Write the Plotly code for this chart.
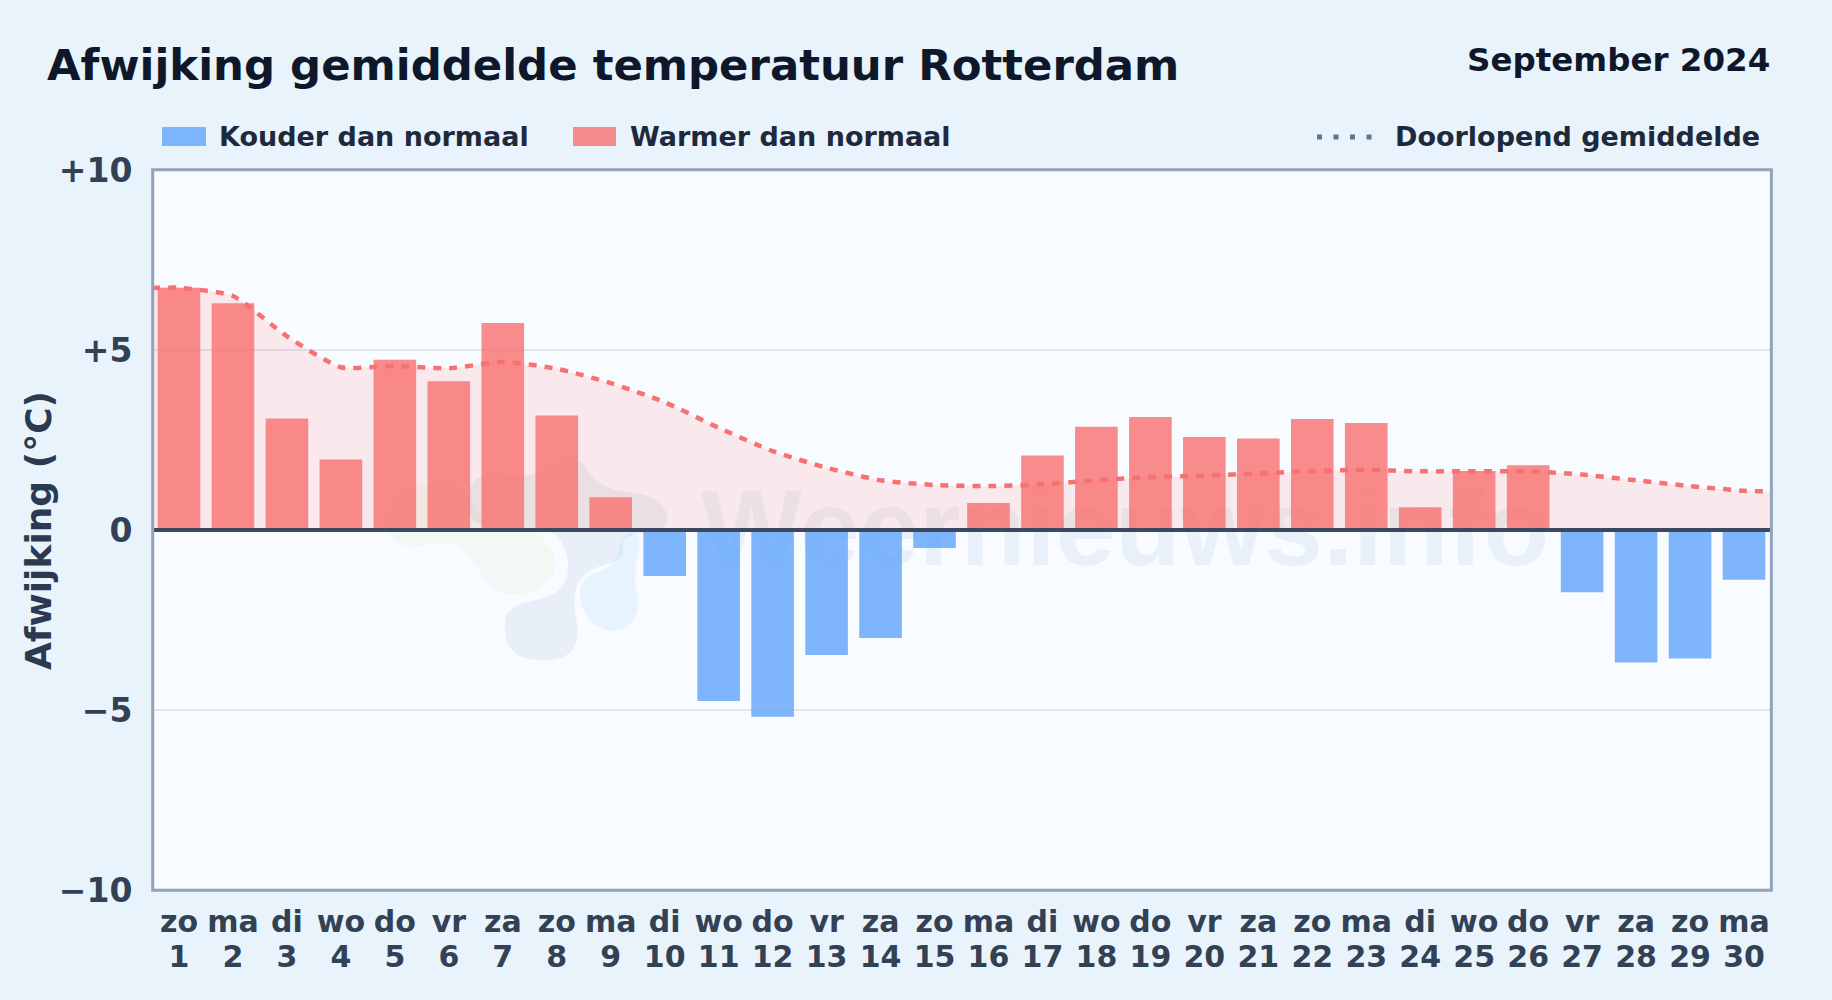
import plotly.graph_objects as go

days = list(range(1, 31))
weekdays = ["zo","ma","di","wo","do","vr","za","zo","ma","di","wo","do","vr","za","zo",
            "ma","di","wo","do","vr","za","zo","ma","di","wo","do","vr","za","zo","ma"]
afwijking = [6.73,6.30,3.10,1.96,4.73,4.13,5.75,3.18,0.91,-1.28,-4.75,-5.19,-3.47,-3.00,-0.50,
             0.75,2.07,2.87,3.14,2.58,2.54,3.08,2.97,0.63,1.64,1.80,-1.73,-3.68,-3.57,-1.38]
gem_x = [0.5] + days + [30.5]
gemiddelde = [6.72,6.73,6.50,5.38,4.52,4.56,4.49,4.67,4.48,4.08,3.55,2.84,2.19,1.73,1.38,1.25,1.22,
              1.27,1.38,1.47,1.51,1.57,1.64,1.67,1.63,1.63,1.63,1.54,1.38,1.22,1.09,1.07]
y_ticks = [-10, -5, 0, 5, 10]
y_ticktext = ["\u221210", "\u22125", "0", "+5", "+10"]

W, H = 1832, 1000
L, R, T, B = 152, 1771, 170, 890
def px(x): return (x - L) / (R - L)
def py(y): return (B - y) / (B - T)

def blob(points, fill):
    """Closed smooth decorative outline from pixel points (logo watermark)."""
    pts = [(px(a), py(b)) for a, b in points]
    n = len(pts)
    d = ""
    for i in range(n):
        p0, p1 = pts[i], pts[(i + 1) % n]
        mx, my = (p0[0] + p1[0]) / 2, (p0[1] + p1[1]) / 2
        if i == 0:
            m0 = ((pts[-1][0] + p0[0]) / 2, (pts[-1][1] + p0[1]) / 2)
            d += f"M{m0[0]},{m0[1]} "
        d += f"Q{p0[0]},{p0[1]} {mx},{my} "
    return dict(type="path", xref="paper", yref="paper", path=d + "Z", fillcolor=fill,
                line=dict(width=0), layer="below")

koud = [v if v < 0 else None for v in afwijking]
warm = [v if v >= 0 else None for v in afwijking]

fig = go.Figure()
fig.add_trace(go.Bar(x=days, y=koud, name="Kouder dan normaal", marker=dict(color="rgba(96,165,250,0.8)", line=dict(width=0))))
fig.add_trace(go.Bar(x=days, y=warm, name="Warmer dan normaal", marker=dict(color="rgba(248,113,113,0.8)", line=dict(width=0))))
fig.add_trace(go.Scatter(x=gem_x, y=gemiddelde, mode="lines", name="Doorlopend gemiddelde", xaxis="x2",
                         line=dict(color="#f87171", width=4.5, dash="8px,8px", shape="spline", smoothing=0.55),
                         fill="tozeroy", fillcolor="rgba(255,115,105,0.13)"))

shapes = [
    blob([(383,530),(395,485),(465,480),(480,525),(530,525),(558,555),(552,582),(520,597),(490,590),(470,555),(450,540),(405,550)], "rgba(190,220,120,0.09)"),
    blob([(465,530),(470,470),(530,480),(575,450),(600,490),(660,495),(672,530),(620,535),(625,560),(585,570),(572,595),(580,640),(565,660),(520,660),(504,640),(506,605),(565,595),(570,550),(545,525)], "rgba(40,90,160,0.075)"),
    blob([(622,533),(643,533),(633,577),(641,607),(627,630),(608,632),(587,620),(578,597),(583,577),(617,565)], "rgba(96,180,250,0.11)"),
    dict(type="rect", xref="paper", yref="paper", x0=px(690), x1=px(1560), y0=py(578), y1=py(458),
         line=dict(width=0), fillcolor="rgba(0,0,0,0)", layer="below",
         label=dict(text="Weernieuws.info", textposition="middle center",
                    font=dict(family="Liberation Sans", size=107, color="rgba(30,110,170,0.07)", weight="bold"))),
    dict(type="line", xref="paper", yref="y", x0=0, x1=1, y0=0, y1=0, line=dict(color="#3b4860", width=4), layer="above"),
    dict(type="rect", xref="paper", yref="paper", x0=px(152.7), x1=px(1771.4), y0=py(890.3), y1=py(169.8),
         fillcolor="rgba(0,0,0,0)", line=dict(color="#94a3b8", width=3), layer="above"),
    dict(type="rect", xref="paper", yref="paper", x0=px(162), x1=px(206), y0=py(146), y1=py(127),
         fillcolor="rgba(96,165,250,0.8)", line=dict(width=0), layer="above"),
    dict(type="rect", xref="paper", yref="paper", x0=px(573), x1=px(616), y0=py(146), y1=py(127),
         fillcolor="rgba(248,113,113,0.8)", line=dict(width=0), layer="above"),
    dict(type="line", xref="paper", yref="paper", x0=px(1317), x1=px(1375), y0=py(137), y1=py(137),
         line=dict(color="#64748b", width=5, dash="5px,11.5px"), layer="above"),
]

def label(text, x, y, size, color, anchor="left", angle=0):
    return dict(text=f"<b>{text}</b>", xref="paper", yref="paper", x=px(x), y=py(y), xanchor=anchor, yanchor="middle",
                showarrow=False, textangle=angle, font=dict(family="DejaVu Sans", size=size, color=color))

annotations = [
    label("Afwijking gemiddelde temperatuur Rotterdam", 45, 65, 43.4, "#0f172a"),
    label("September 2024", 1772, 60, 32.5, "#0f172a", "right"),
    label("Kouder dan normaal", 217, 137, 27, "#1e293b"),
    label("Warmer dan normaal", 628, 137, 27, "#1e293b"),
    label("Doorlopend gemiddelde", 1762, 137, 27, "#1e293b", "right"),
    label("Afwijking (\u00b0C)", 38, 531, 36, "#2b3a50", "center", -90),
]

tick_font = dict(family="DejaVu Sans", size=30, color="#334155")
fig.update_layout(
    width=W, height=H, autosize=False,
    margin=dict(l=L, r=W - R, t=T, b=H - B, pad=0),
    paper_bgcolor="#e8f3fc", plot_bgcolor="#f8fbff",
    barmode="overlay", bargap=0.21,
    font=dict(family="DejaVu Sans"),
    shapes=shapes, annotations=annotations,
    showlegend=False,
    xaxis=dict(range=[0.5, 30.5], tickmode="array", tickvals=days,
               ticktext=[f"<b>{w}</b>" for w in weekdays],
               tickfont=tick_font, tickangle=0,
               ticks="outside", ticklen=5, tickcolor="rgba(0,0,0,0)",
               showgrid=False, zeroline=False, showline=False),
    xaxis2=dict(range=[0.5, 30.5], overlaying="x", anchor="y", side="bottom", tickmode="array", tickvals=days,
                ticktext=[f"<b>{d}</b>" for d in days],
                tickfont=tick_font, tickangle=0,
                ticks="outside", ticklen=40, tickcolor="rgba(0,0,0,0)",
                showgrid=False, zeroline=False, showline=False),
    yaxis=dict(range=[-10, 10], tickmode="array", tickvals=y_ticks, ticktext=[f"<b>{t}</b>" for t in y_ticktext],
               tickfont=dict(family="DejaVu Sans", size=33, color="#334155"),
               ticks="outside", ticklen=12, tickcolor="rgba(0,0,0,0)",
               gridcolor="rgba(148,163,184,0.24)", gridwidth=2, zeroline=False, showline=False),
)
fig.write_html("out.html", config=dict(displayModeBar=False),
               post_script="document.body.style.margin='0';document.body.style.overflow='hidden';")
